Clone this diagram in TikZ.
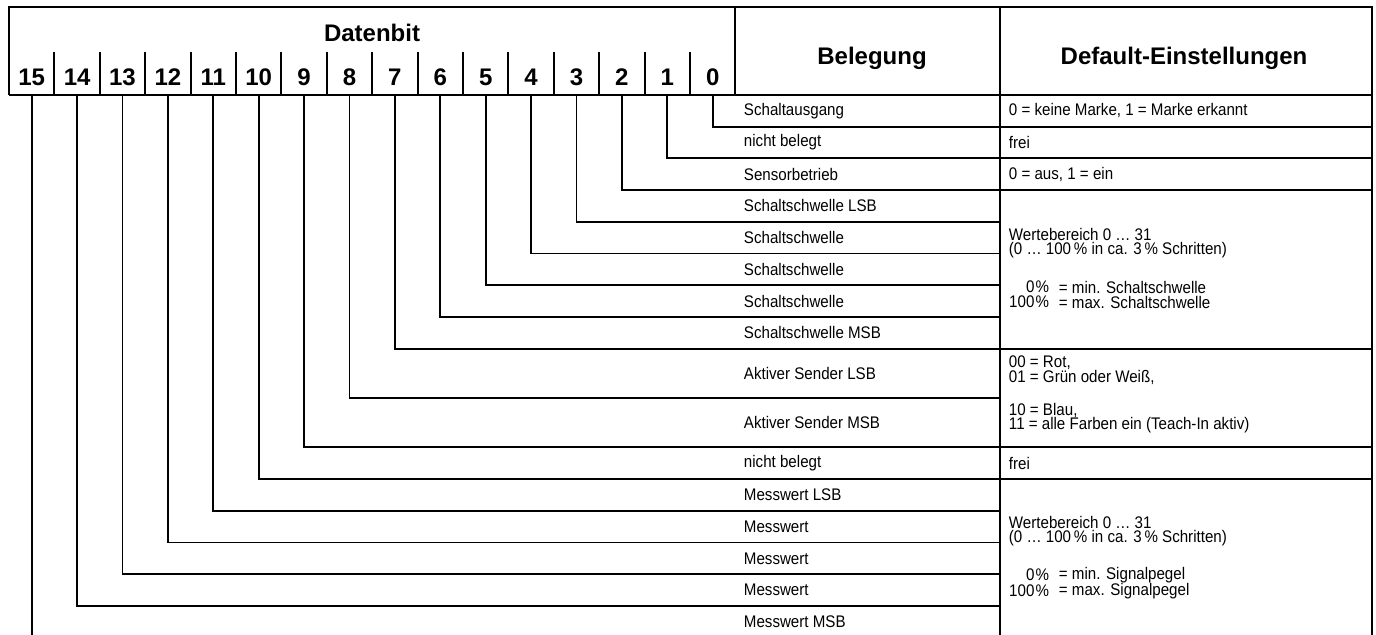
\documentclass[tikz,border=0pt]{standalone}
\usepackage{fontspec}
\setmainfont{Liberation Sans}
\newfontfamily\condfont[FakeStretch=0.9]{Liberation Sans}
\begin{document}
\begin{tikzpicture}[x=0.5pt,y=-0.5pt,line width=0.95pt,
  hdr/.style={font=\fontsize{12}{14}\selectfont\bfseries,inner sep=0pt},
  lbl/.style={font=\condfont\fontsize{8.4}{7.3}\selectfont,anchor=west,inner sep=0pt,align=left},
  pct/.style={font=\condfont\fontsize{8.4}{7.3}\selectfont,anchor=west,inner sep=0pt}
]
\useasboundingbox (0,0) rectangle (1376,635);
% header frame
\draw (9,95) -- (9,7) -- (1372,7) -- (1372,635);
\draw (9,95) -- (1372,95);
\draw (735,7) -- (735,95);
\draw (1000,7) -- (1000,635);
\foreach \k in {1,...,15} \draw ({9+45.4*\k},52) -- ({9+45.4*\k},95);
\node[hdr] (datenbit) at (372,33) {Datenbit};
\node[hdr] (beleg) at (872,58) {Belegung};
\node[hdr] (default) at (1184,58) {Default-Einstellungen};
\foreach \k in {0,...,15} {
  \pgfmathtruncatemacro\b{15-\k}
  \node[hdr] (b\b) at ({9+45.4*(\k+0.5)},77) {\b};
  \coordinate (s\b) at ({9+45.4*(\k+0.5)},95);
}
% bit lines: bit / row bottom / right end
\foreach \b/\y/\e in {0/126.7/1372,1/158.4/1372,2/190.1/1372,3/221.8/1000,4/253.5/1000,
  5/285.2/1000,6/316.9/1000,7/348.6/1372,8/398.0/1000,9/447.4/1372,10/479.1/1372,
  11/510.8/1000,12/542.5/1000,13/574.2/1000,14/605.9/1000} {
  \coordinate (e\b) at (\e,\y);
  \draw (s\b) |- (e\b);
}
\coordinate (e15) at ({9+45.4*0.5},635);
\draw (s15) -- (e15);
% Belegung labels
\foreach \b/\y/\t in {0/110.85/Schaltausgang,1/142.55/nicht belegt,2/174.25/Sensorbetrieb,
  3/205.95/Schaltschwelle LSB,4/237.65/Schaltschwelle,5/269.35/Schaltschwelle,
  6/301.05/Schaltschwelle,7/332.75/Schaltschwelle MSB,8/373.3/Aktiver Sender LSB,
  9/422.7/Aktiver Sender MSB,10/463.25/nicht belegt,11/494.95/Messwert LSB,
  12/526.65/Messwert,13/558.35/Messwert,14/590.05/Messwert,15/621.75/Messwert MSB} {
  \node[lbl] (l\b) at (743,\y) {\t};
}
% Default texts
\node[lbl] (d0) at (1008,110.85) {0 = keine Marke, 1 = Marke erkannt};
\node[lbl] (d1) at (1008,142.55) {frei};
\node[lbl] (d2) at (1008,174.25) {0 = aus, 1 = ein};
\node[lbl] (d3) at (1008,243) {Wertebereich 0 … 31\\(0 … 100\,\% in ca. 3\,\% Schritten)};
\node[pct,anchor=east] (p1a) at (1050,287) {0\kern0.6pt\%};
\node[pct] (p1b) at (1058,287) {= min. Schaltschwelle};
\node[pct,anchor=east] (p2a) at (1050,302) {100\kern0.6pt\%};
\node[pct] (p2b) at (1058,302) {= max. Schaltschwelle};
\node[lbl] (d8) at (1008,370) {00 = Rot,\\01 = Grün oder Weiß,};
\node[lbl] (d9) at (1008,418) {10 = Blau,\\11 = alle Farben ein (Teach-In aktiv)};
\node[lbl] (d10) at (1008,463.25) {frei};
\node[lbl] (d11) at (1008,531) {Wertebereich 0 … 31\\(0 … 100\,\% in ca. 3\,\% Schritten)};
\node[pct,anchor=east] (p3a) at (1050,575) {0\kern0.6pt\%};
\node[pct] (p3b) at (1058,575) {= min. Signalpegel};
\node[pct,anchor=east] (p4a) at (1050,591) {100\kern0.6pt\%};
\node[pct] (p4b) at (1058,591) {= max. Signalpegel};
\end{tikzpicture}
\end{document}
